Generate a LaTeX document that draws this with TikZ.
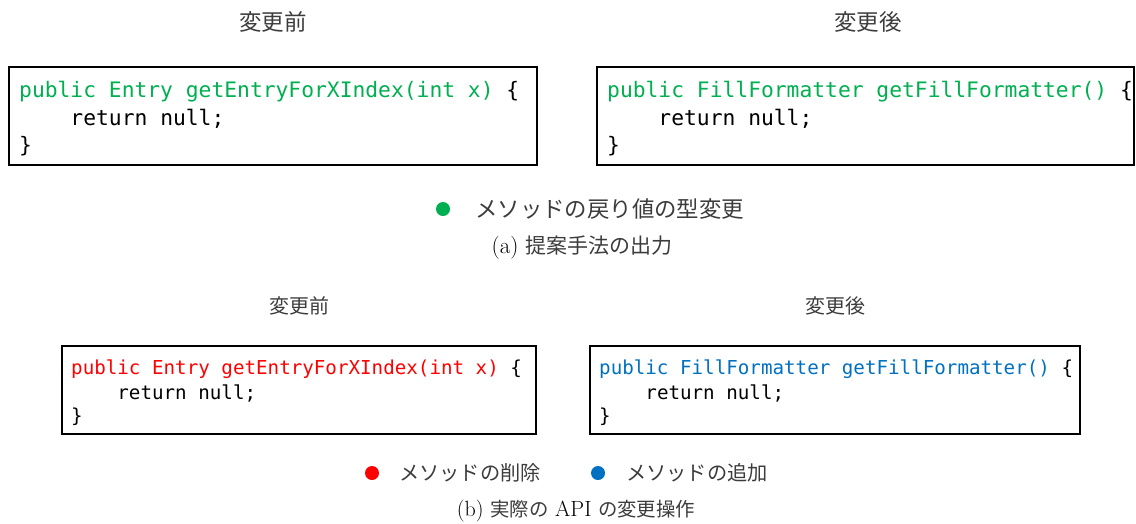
\documentclass[tikz,border=0pt]{standalone}
\usepackage{fontspec}
\newfontfamily\jpfont{Noto Sans CJK JP}
\newfontfamily\codefont{DejaVu Sans Mono}
\definecolor{retGreen}{HTML}{00B050}
\definecolor{delRed}{HTML}{FF0000}
\definecolor{addBlue}{HTML}{0070C0}
\definecolor{labelGray}{HTML}{3C3C3C}

\begin{document}
\begin{tikzpicture}[x=1pt,y=-1pt,
  codebox/.style={draw, line width=1.3pt, inner sep=0pt},
  codeline/.style={anchor=base west, inner sep=0pt},
  bigcode/.style={font=\codefont\fontsize{21.3}{26}\selectfont},
  smallcode/.style={font=\codefont\fontsize{19.2}{24}\selectfont},
  bighead/.style={inner sep=0pt, text=labelGray, font=\jpfont\fontsize{22.5}{26}\selectfont},
  smallhead/.style={inner sep=0pt, text=labelGray, font=\jpfont\fontsize{20}{24}\selectfont},
  legendA/.style={anchor=west, inner sep=0pt, text=labelGray, font=\jpfont\fontsize{22.4}{26}\selectfont},
  legendB/.style={anchor=west, inner sep=0pt, text=labelGray, font=\jpfont\fontsize{20.2}{24}\selectfont},
  dot/.style={circle, inner sep=0pt, minimum size=14pt},
  caption/.style={inner sep=0pt, text=black}
]
\useasboundingbox (0,0) rectangle (1136,523);

% ---------- (a) output of the proposed method ----------
\node[bighead] (hdrA1) at (273,22) {変更前};
\node[bighead] (hdrA2) at (868,22) {変更後};

\node[codebox, minimum width=528pt, minimum height=98pt] (boxA1) at (273,116) {};
\node[codebox, minimum width=537pt, minimum height=98pt] (boxA2) at (865.5,116) {};

\begin{scope}[every node/.append style={bigcode}]
\node[codeline] (a1l1) at (19,97) {\textcolor{retGreen}{public Entry getEntryForXIndex(int x)}~\{};
\node[codeline] (a1l2) at (19,125) {\phantom{xxxx}return null;};
\node[codeline] (a1l3) at (19,152) {\}};

\node[codeline] (a2l1) at (607,97) {\textcolor{retGreen}{public FillFormatter getFillFormatter()}~\{};
\node[codeline] (a2l2) at (607,125) {\phantom{xxxx}return null;};
\node[codeline] (a2l3) at (607,152) {\}};
\end{scope}

\node[dot, fill=retGreen] (dotRet) at (443,209) {};
\node[legendA] (legRet) at (475,209) {メソッドの戻り値の型変更};

\node[caption] (capA) at (582,248)
  {\fontsize{23}{26}\selectfont (a) \color{labelGray}\jpfont\fontsize{21}{26}\selectfont 提案手法の出力};

% ---------- (b) actual API change operations ----------
\node[smallhead] (hdrB1) at (299,306) {変更前};
\node[smallhead] (hdrB2) at (835,306) {変更後};

\node[codebox, minimum width=474pt, minimum height=88pt] (boxB1) at (299,390) {};
\node[codebox, minimum width=490pt, minimum height=88pt] (boxB2) at (835,390) {};

\begin{scope}[every node/.append style={smallcode}]
\node[codeline] (b1l1) at (71,374) {\textcolor{delRed}{public Entry getEntryForXIndex(int x)}~\{};
\node[codeline] (b1l2) at (71,399) {\phantom{xxxx}return null;};
\node[codeline] (b1l3) at (71,422) {\}};

\node[codeline] (b2l1) at (599,374) {\textcolor{addBlue}{public FillFormatter getFillFormatter()}~\{};
\node[codeline] (b2l2) at (599,399) {\phantom{xxxx}return null;};
\node[codeline] (b2l3) at (599,422) {\}};
\end{scope}

\node[dot, fill=delRed] (dotDel) at (372,473) {};
\node[legendB] (legDel) at (399,473) {メソッドの削除};
\node[dot, fill=addBlue] (dotAdd) at (598,473) {};
\node[legendB] (legAdd) at (626,473) {メソッドの追加};

\node[caption] (capB) at (576,511)
  {\fontsize{22}{26}\selectfont (b) \textcolor{labelGray}{\jpfont\fontsize{19.4}{24}\selectfont 実際の} API \textcolor{labelGray}{\jpfont\fontsize{19.4}{24}\selectfont の変更操作}};
\end{tikzpicture}
\end{document}
